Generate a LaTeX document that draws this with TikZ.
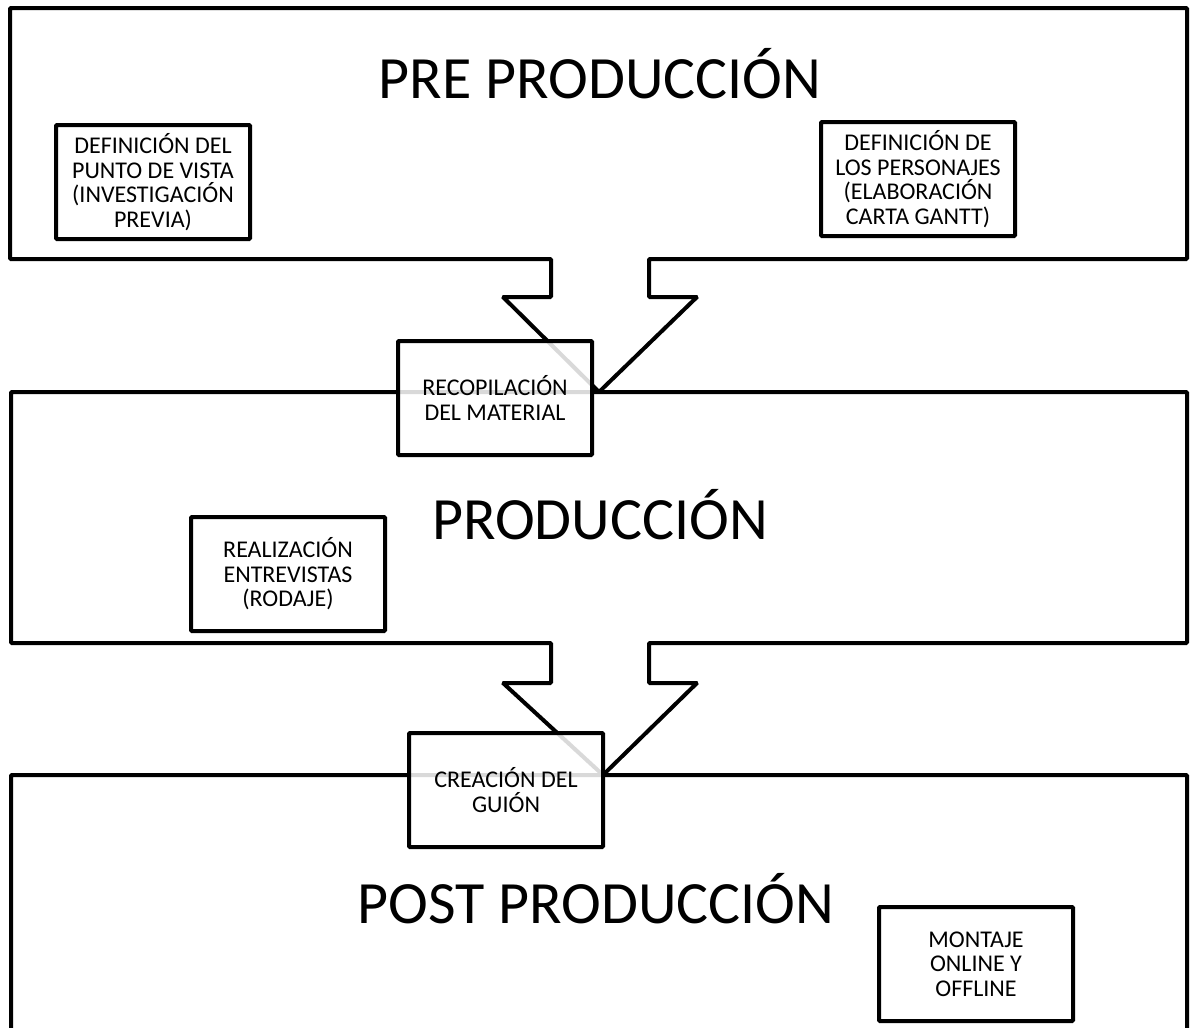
\documentclass[tikz,border=0pt]{standalone}
\usepackage{fontspec}
\setmainfont{Carlito}

\tikzset{
  etapa/.style={line width=4pt, rounded corners=1pt},
  tarea/.style={draw, line width=4pt, rounded corners=1pt, fill=white, fill opacity=0.85, text opacity=1,
    minimum width=194pt, minimum height=114pt, align=center, font=\fontsize{24}{24.5}\selectfont},
  titulo/.style={anchor=base, font=\fontsize{60}{60}\selectfont}
}

\begin{document}
\begin{tikzpicture}[x=1pt, y=-1pt]
            \useasboundingbox (0,0) rectangle (1194,1028);
            \clip (0,0) rectangle (1194,1028);

            % Pre produccion, with its arrow down
            \draw[etapa] (10,8) -- (1187,8) -- (1187,259) -- (649,259) -- (649,297) -- (697,297) -- (599,392)
                -- (503,297) -- (551,297) -- (551,259) -- (10,259) -- cycle;
            \node[titulo] (preprod) at (600,98) {PRE PRODUCCIÓN};
            \node[tarea] (punto) at (153,182) {DEFINICIÓN DEL\\PUNTO DE VISTA\\(INVESTIGACIÓN\\PREVIA)};
            \node[tarea] (personajes) at (918,179) {DEFINICIÓN DE\\LOS PERSONAJES\\(ELABORACIÓN\\CARTA GANTT)};

            % Produccion, with its arrow down
            \draw[etapa] (11,392) -- (1187,392) -- (1187,643) -- (649,643) -- (649,683) -- (697,683) -- (603,775)
                -- (503,683) -- (551,683) -- (551,643) -- (11,643) -- cycle;
            \node[titulo] (prod) at (600,539) {PRODUCCIÓN};
            \node[tarea] (entrevistas) at (288,574) {REALIZACIÓN\\ENTREVISTAS\\(RODAJE)};

            % Post produccion
            \draw[etapa] (11,1040) -- (11,775) -- (1187,775) -- (1187,1040);
            \node[titulo] (postprod) at (596,923) {POST PRODUCCIÓN};
            \node[tarea] (montaje) at (976,964) {MONTAJE\\ONLINE Y\\OFFLINE};

            % Boxes sitting on the arrow tips
            \node[tarea] (material) at (495,398) {RECOPILACIÓN\\DEL MATERIAL};
            \node[tarea] (guion) at (506,790) {CREACIÓN DEL\\GUIÓN};
\end{tikzpicture}
\end{document}
